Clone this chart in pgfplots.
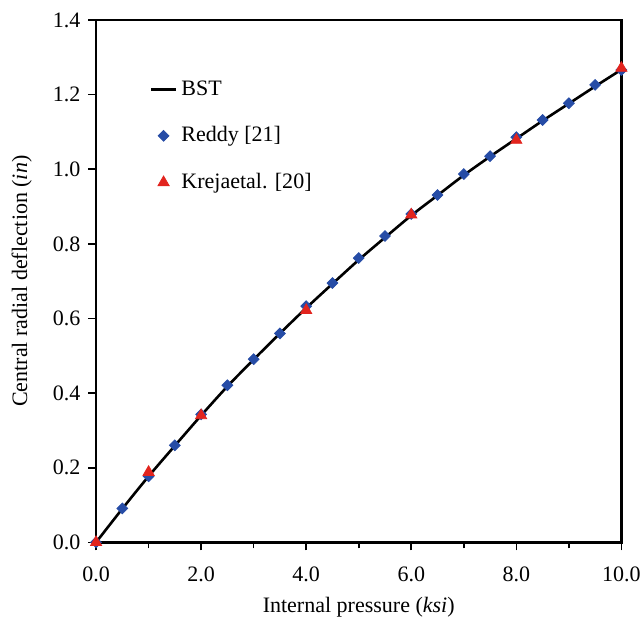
\documentclass[border=0pt]{standalone}
\usepackage{fontspec}
\setmainfont{Liberation Serif}
\usepackage{pgfplots}
\pgfplotsset{compat=1.18}
\definecolor{rblue}{RGB}{38,76,166}
\definecolor{kred}{RGB}{226,36,30}
\pgfplotsset{short line legend/.style={
    legend image code/.code={\draw[##1] (0.08cm,0cm) -- (0.52cm,0cm);}}}

\begin{document}
\fontsize{11}{13}\selectfont
\begin{tikzpicture}
\begin{axis}[
    scale only axis,
    width=262.5pt, height=261pt,
    xmin=0, xmax=10, ymin=0, ymax=1.4,
    xtick={0,2,...,10}, ytick={0,0.2,...,1.4},
    minor x tick num=1,
    xtick pos=bottom, ytick pos=left,
    tick align=outside,
    major tick length=4pt, minor tick length=3pt,
    axis line style={line width=1.2pt},
    tick style={line width=0.8pt, black},
    /pgf/number format/assume math mode=true,
    xticklabel style={yshift=-4.5pt, inner xsep=0pt, /pgf/number format/.cd, fixed, fixed zerofill, precision=1},
    yticklabel style={/pgf/number format/.cd, fixed, fixed zerofill, precision=1},
    ticklabel style={font=\fontsize{11}{13}\selectfont},
    label style={font=\fontsize{11}{13}\selectfont},
    xlabel={Internal pressure (\textit{ksi})},
    ylabel={Central radial deflection (\textit{in})},
    ylabel style={yshift=3pt},
    legend style={draw=none, fill=none, at={(0.09,0.90)}, anchor=north west,
        font=\fontsize{11}{13}\selectfont, row sep=10pt},
    legend cell align=left,
]
\addplot[black, line width=1.3pt, smooth, short line legend] coordinates {
    (0,0) (0.5,0.090) (1,0.177) (1.5,0.259) (2,0.340) (2.5,0.418) (3,0.490)
    (3.5,0.560) (4,0.628) (4.5,0.693) (5,0.757) (5.5,0.817) (6,0.876)
    (6.5,0.930) (7,0.984) (7.5,1.034) (8,1.082) (8.5,1.130) (9,1.176)
    (9.5,1.222) (10,1.267)
};
\addlegendentry{BST}
\addplot[only marks, mark=square*, mark size=1.9pt, mark options={rotate=45}, color=rblue] coordinates {
    (0,0) (0.5,0.091) (1,0.177) (1.5,0.260) (2,0.343) (2.5,0.421) (3,0.491)
    (3.5,0.560) (4,0.633) (4.5,0.695) (5,0.762) (5.5,0.821) (6,0.880)
    (6.5,0.931) (7,0.987) (7.5,1.035) (8,1.086) (8.5,1.132) (9,1.177)
    (9.5,1.226) (10,1.266)
};
\addlegendentry{Reddy [21]}
\addplot[only marks, mark=triangle*, mark size=3.2pt, color=kred] coordinates {
    (0,0) (1,0.188) (2,0.340) (4,0.622) (6,0.878) (8,1.078) (10,1.271)
};
\addlegendentry{Krejaetal. [20]}
\end{axis}
\path ([xshift=-48pt,yshift=-38pt]current axis.south west)
    rectangle ([xshift=9.8pt,yshift=10pt]current axis.north east);
\end{tikzpicture}
\end{document}
